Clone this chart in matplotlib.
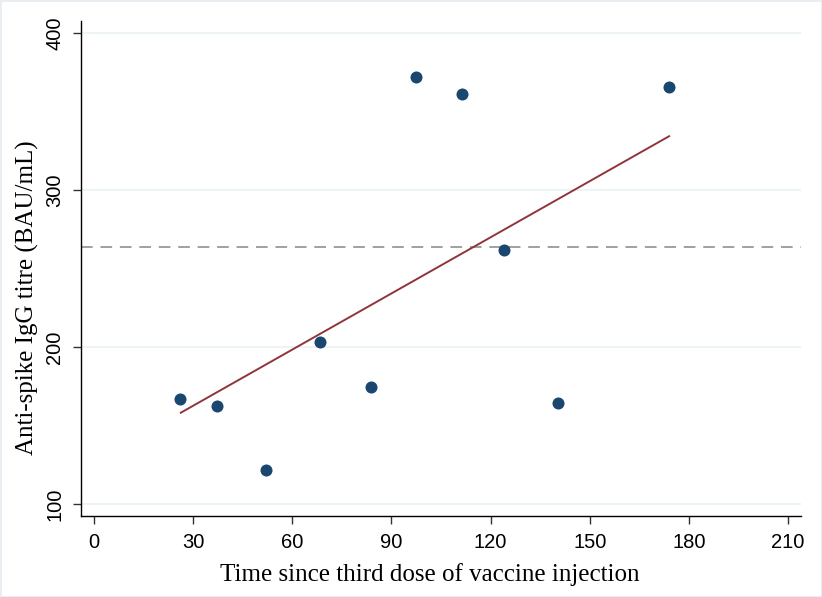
import matplotlib
matplotlib.use("Agg")
import matplotlib.pyplot as plt

# days since third dose vs anti-spike IgG titre
days = [26.0, 37.2, 52.0, 68.4, 83.8, 97.4, 111.3, 124.1, 140.4, 174.0]
titre = [167.0, 162.5, 121.7, 203.4, 174.7, 371.9, 361.1, 261.5, 164.5, 365.5]
reference_level = 264.0

# fitted line endpoints
fit_x = [26.3, 174.0]
fit_y = [158.1, 334.3]

x_ticks = [0, 30, 60, 90, 120, 150, 180, 210]
y_ticks = [100, 200, 300, 400]

fig = plt.figure(figsize=(8.22, 5.97), dpi=100)
fig.patch.set_edgecolor("#e8eef1")
fig.patch.set_linewidth(2)
ax = fig.add_axes([0.0985, 0.1357, 0.876, 0.8291])

ax.set_xlim(-3.9, 213.9)
ax.set_ylim(92.3, 407.7)

for yv in y_ticks:
    ax.axhline(yv, color="#eaf2f3", lw=1.2, zorder=0)

ax.axhline(reference_level, color="#a0a0a0", lw=1.4, ls=(0, (6, 4)), zorder=1)

ax.plot(fit_x, fit_y, color="#90353b", lw=1.4, zorder=2)

ax.scatter(days, titre, s=75, color="#1a476f", zorder=3, linewidths=0)

for side in ["top", "right"]:
    ax.spines[side].set_visible(False)
ax.spines["left"].set_linewidth(1.0)
ax.spines["bottom"].set_linewidth(1.0)

ax.set_xticks(x_ticks)
ax.set_yticks(y_ticks)
ax.tick_params(axis="both", direction="out", length=6, width=1.0, color="#333333",
               labelsize=14.5, pad=6)
for lab in ax.get_xticklabels() + ax.get_yticklabels():
    lab.set_fontfamily("Liberation Sans")
for lab in ax.get_yticklabels():
    lab.set_rotation(90)
    lab.set_va("center")

ax.set_xlabel("Time since third dose of vaccine injection", fontfamily="Liberation Serif",
              fontsize=18)
ax.set_ylabel("Anti-spike IgG titre (BAU/mL)", fontfamily="Liberation Serif",
              fontsize=18)
ax.xaxis.set_label_coords(0.485, -0.095)
ax.yaxis.set_label_coords(-0.058, 0.441)

fig.savefig("out.png", dpi=100, facecolor="white", edgecolor=fig.get_edgecolor())
